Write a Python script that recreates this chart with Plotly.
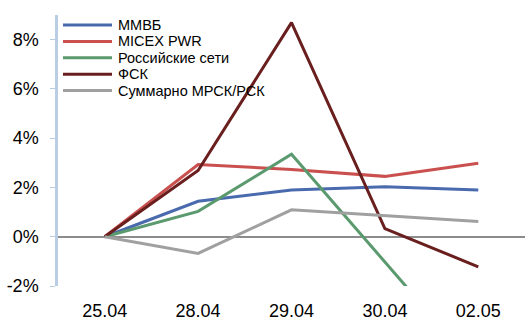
import plotly.graph_objects as go

dates = ["25.04", "28.04", "29.04", "30.04", "02.05"]
mmvb = [0, 1.44, 1.90, 2.03, 1.90]
micex_pwr = [0, 2.93, 2.73, 2.45, 2.98]
ros_seti = [0, 1.03, 3.35, None, -5.4]
fsk = [0, 2.69, 8.69, 0.33, -1.22]
mrsk = [0, -0.68, 1.09, 0.84, 0.62]
y_tickvals = [-0.02, 0, 0.02, 0.04, 0.06, 0.08]
y_ticktext = ["-2%", "0%", "2%", "4%", "6%", "8%"]

series = [
    ("ММВБ", mmvb, "#4a6aae"),
    ("MICEX PWR", micex_pwr, "#c9504f"),
    ("Российские сети", ros_seti, "#5b9a6e"),
    ("ФСК", fsk, "#6a1f1f"),
    ("Суммарно МРСК/РСК", mrsk, "#a0a0a0"),
]

W, H = 528, 320
L, R, T, B = 58, 3, 15, 34
pw, ph = W - L - R, H - T - B

fig = go.Figure()
shapes, annots = [], []
for i, (name, vals, col) in enumerate(series):
    fig.add_trace(go.Scatter(
        x=dates, y=[None if v is None else v / 100 for v in vals],
        name=name, mode="lines", connectgaps=True,
        line=dict(color=col, width=3), showlegend=False,
    ))
    yc = 25 + i * 16.4
    yp = (H - B - yc) / ph
    shapes.append(dict(type="line", xref="paper", yref="paper",
                       x0=(63 - L) / pw, x1=(112 - L) / pw, y0=yp, y1=yp,
                       line=dict(color=col, width=3)))
    annots.append(dict(xref="paper", yref="paper", x=(116 - L) / pw, y=yp,
                       xanchor="left", yanchor="middle", text=name,
                       showarrow=False, font=dict(size=14.5, color="black")))

fig.update_layout(
    width=W, height=H,
    margin=dict(l=L, r=R, t=T, b=B),
    paper_bgcolor="white", plot_bgcolor="white",
    font=dict(family="Liberation Sans, Arial, sans-serif", color="black"),
    showlegend=False,
    shapes=shapes, annotations=annots,
)
fig.update_xaxes(
    type="category", range=[-0.5, 4.5], automargin=False,
    showline=False, showgrid=False, zeroline=False,
    ticks="", tickfont=dict(size=18), ticklabelstandoff=12,
)
fig.update_yaxes(
    range=[-0.02, 0.09], tickvals=y_tickvals, ticktext=y_ticktext,
    tickfont=dict(size=18), automargin=False,
    showline=True, linecolor="#b9cde5", linewidth=2.5,
    ticks="outside", ticklen=5, tickcolor="#b9cde5", tickwidth=1,
    ticklabelstandoff=8,
    showgrid=False, zeroline=True, zerolinecolor="#8c8c8c", zerolinewidth=1.5,
)
fig.write_html(
    "out.html",
    config={"displayModeBar": False},
    post_script="document.body.style.margin='0';document.body.style.overflow='hidden';",
)
